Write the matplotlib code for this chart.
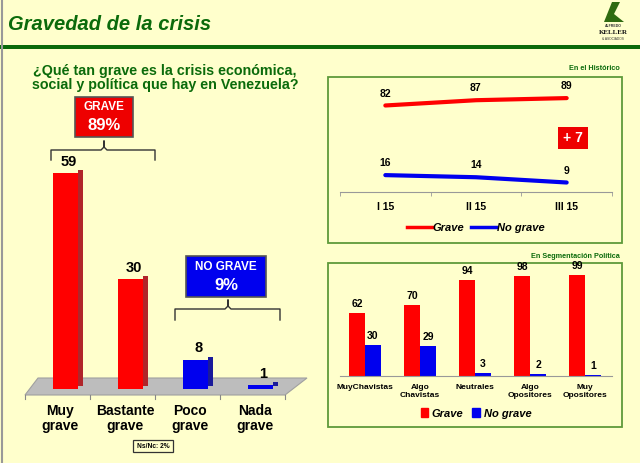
import matplotlib
matplotlib.use("Agg")
import matplotlib.pyplot as plt
from matplotlib.patches import Rectangle, Polygon
from matplotlib.lines import Line2D
import numpy as np

plt.rcParams['font.family'] = ['Liberation Sans', 'DejaVu Sans']

# ---------------- data ----------------
main_cats = ["Muy\ngrave", "Bastante\ngrave", "Poco\ngrave", "Nada\ngrave"]
main_vals = [59, 30, 8, 1]
main_colors = ["#FF0000", "#FF0000", "#0000EE", "#0000EE"]
main_side = ["#B0252A", "#B0252A", "#1A1A9A", "#1A1A9A"]

hist_periods = ["I 15", "II 15", "III 15"]
hist_grave = [82, 87, 89]
hist_nograve = [16, 14, 9]

seg_cats = ["MuyChavistas", "Algo\nChavistas", "Neutrales", "Algo\nOpositores", "Muy\nOpositores"]
seg_grave = [62, 70, 94, 98, 99]
seg_nograve = [30, 29, 3, 2, 1]

BG = "#FFFFCC"
GREEN = "#0B6B0B"
BORDER = "#5E9A3A"
RED = "#FF0000"
BLUE = "#0000EE"

W, H = 640, 463
fig = plt.figure(figsize=(6.4, 4.63), dpi=100, facecolor=BG)

def px_axes(x0, y0, x1, y1, **kw):
    return fig.add_axes([x0 / W, 1 - y1 / H, (x1 - x0) / W, (y1 - y0) / H], **kw)

bg = px_axes(0, 0, W, H)
bg.set_xlim(0, W); bg.set_ylim(H, 0); bg.axis("off"); bg.set_zorder(0)

bg.plot([1.5, 1.5], [0, H], color="#999999", lw=1.5)
bg.text(8, 24, "Gravedad de la crisis", color=GREEN, fontsize=14.5, fontweight="bold",
        fontstyle="italic", va="center", ha="left")
bg.add_patch(Rectangle((0, 44.5), W, 4.5, color="#0A6A0A", lw=0))
# logo
bg.add_patch(Polygon([[604, 22], [612, 2], [620, 2], [614, 14], [624, 22]], closed=True,
                     color="#2F6B10", lw=0))
bg.text(613, 26, "ALFREDO", fontsize=2.5, fontweight="bold", ha="center", va="center", color="#333333")
bg.text(613, 33, "KELLER", fontsize=5, fontweight="bold", ha="center", va="center", color="#111111",
        family="Liberation Serif")
bg.text(613, 39.5, "& ASOCIADOS", fontsize=2.3, ha="center", va="center", color="#333333")

# question
bg.text(165, 78, "¿Qué tan grave es la crisis económica,\nsocial y política que hay en Venezuela?",
        color=GREEN, fontsize=10.3, fontweight="bold", ha="center", va="center", linespacing=1.05)

# GRAVE box + bracket
bg.add_patch(Rectangle((75, 97), 58, 40, facecolor="#EE0000", edgecolor="#555555", lw=1.2))
bg.text(104, 107, "GRAVE", color="white", fontsize=8.5, fontweight="bold", ha="center", va="center")
bg.text(104, 125, "89%", color="white", fontsize=12, fontweight="bold", ha="center", va="center")

def bracket(xa, xb, ytop, ybot, xm):
    bg.plot([xa, xa, xm - 3, xm, xm, xm, xm + 3, xb, xb],
            [ybot, ytop + 3, ytop + 3, ytop, ytop - 6, ytop, ytop + 3, ytop + 3, ybot],
            color="#333333", lw=1.0)

bracket(51, 155, 147, 160, 104)

# NO GRAVE box + bracket
bg.add_patch(Rectangle((186, 256), 80, 41, facecolor="#0000EE", edgecolor="#555555", lw=1.2))
bg.text(226, 267, "NO GRAVE", color="white", fontsize=8.5, fontweight="bold", ha="center", va="center")
bg.text(226, 286, "9%", color="white", fontsize=12, fontweight="bold", ha="center", va="center")
bracket(175, 280, 306, 320, 228)

# floor
bg.add_patch(Polygon([[38, 378], [307, 378], [285, 395], [25, 395]], closed=True,
                     facecolor="#BDBDBD", edgecolor="#A0A0A0", lw=0.8))
for xt in [25, 90, 155, 220, 285]:
    bg.plot([xt, xt], [395, 399], color="#888888", lw=0.8)

# Ns/Nc box
bg.add_patch(Rectangle((133, 440), 40, 12, facecolor="none", edgecolor="#333333", lw=0.9))
bg.text(153, 446, "Ns/Nc: 2%", fontsize=4.8, fontweight="bold", ha="center", va="center")

# ---------------- left 3D-like bar chart ----------------
axL = px_axes(25, 140, 285, 389)
axL.set_zorder(1); axL.patch.set_alpha(0)
axL.set_xlim(-0.62, 3.38)
ymaxL = 249 / 3.66
axL.set_ylim(0, ymaxL)
for s in axL.spines.values():
    s.set_visible(False)
axL.set_yticks([])
xL = np.arange(len(main_vals))
fw = 25 / 65.0
sw = 5 / 65.0
lift = 3 / 3.66
axL.bar(xL + fw / 2 + sw / 2, main_vals, width=sw, bottom=lift, color=main_side, lw=0)
axL.bar(xL, main_vals, width=fw, color=main_colors, lw=0)
for i, v in enumerate(main_vals):
    axL.annotate(str(v), (xL[i] + 0.05, v + lift), xytext=(0, 1), textcoords="offset points",
                 ha="center", va="bottom", fontsize=10.5, fontweight="bold")
axL.set_xticks(xL - 0.08)
axL.set_xticklabels(main_cats, fontsize=10, fontweight="bold", linespacing=1.05)
axL.tick_params(axis="x", length=0, pad=11)

# ---------------- right top panel: history ----------------
bg.add_patch(Rectangle((328, 77), 294, 166, facecolor="none", edgecolor=BORDER, lw=1.3))
bg.text(620, 69, "En el Histórico", fontsize=5.2, fontweight="bold", color=GREEN, ha="right", va="center")

axT = px_axes(340, 77, 612, 192)
axT.set_zorder(1); axT.patch.set_alpha(0)
xT = np.arange(len(hist_periods))
axT.set_xlim(-0.5, 2.5)
axT.set_ylim(0, 109)
axT.plot(xT, hist_grave, color=RED, lw=3, solid_capstyle="round")
axT.plot(xT, hist_nograve, color=BLUE, lw=3, solid_capstyle="round")
for i in range(len(xT)):
    axT.annotate(str(hist_grave[i]), (xT[i], hist_grave[i]), xytext=(0, 5), textcoords="offset points",
                 ha="center", va="bottom", fontsize=7.5, fontweight="bold")
    axT.annotate(str(hist_nograve[i]), (xT[i], hist_nograve[i]), xytext=(0, 5), textcoords="offset points",
                 ha="center", va="bottom", fontsize=7.5, fontweight="bold")
for k in ["top", "right", "left"]:
    axT.spines[k].set_visible(False)
axT.spines["bottom"].set_color("#999999")
axT.set_yticks([])
axT.set_xticks(xT)
axT.set_xticklabels(hist_periods, fontsize=7.5, fontweight="bold")
axT.set_xticks([-0.5, 0.5, 1.5, 2.5], minor=True)
axT.tick_params(axis="x", which="major", length=0, pad=7)
axT.tick_params(axis="x", which="minor", length=3, color="#999999", direction="out")
handles = [Line2D([], [], color=RED, lw=2.5), Line2D([], [], color=BLUE, lw=2.5)]
axT.legend(handles, ["Grave", "No grave"], loc="center", bbox_to_anchor=(0.5, -0.31),
           ncol=2, frameon=False, handlelength=2.2, handletextpad=0.1, columnspacing=0.6,
           prop=dict(size=8, weight="bold", style="italic"))
bg.add_patch(Rectangle((558, 127), 30, 22, facecolor="#EE0000", edgecolor="none"))
bg.text(573, 138, "+ 7", color="white", fontsize=10, fontweight="bold", ha="center", va="center")

# ---------------- right bottom panel: segmentation ----------------
bg.add_patch(Rectangle((328, 263), 294, 164, facecolor="none", edgecolor=BORDER, lw=1.3))
bg.text(620, 257, "En Segmentación Política", fontsize=5.2, fontweight="bold", color=GREEN,
        ha="right", va="center")

axB = px_axes(340, 266, 612, 376)
axB.set_zorder(1); axB.patch.set_alpha(0)
xB = np.arange(len(seg_cats))
off = 25 / 55.0
axB.set_xlim(-off, -off + 272 / 55.0)
axB.set_ylim(0, 108)
bw = 16 / 55.0
axB.bar(xB - bw / 2, seg_grave, width=bw, color=RED, lw=0)
axB.bar(xB + bw / 2, seg_nograve, width=bw, color=BLUE, lw=0)
for i in range(len(xB)):
    axB.annotate(str(seg_grave[i]), (xB[i] - bw / 2, seg_grave[i]), xytext=(0, 3), textcoords="offset points",
                 ha="center", va="bottom", fontsize=7.5, fontweight="bold")
    axB.annotate(str(seg_nograve[i]), (xB[i] + bw / 2, seg_nograve[i]), xytext=(0, 3), textcoords="offset points",
                 ha="center", va="bottom", fontsize=7.5, fontweight="bold")
for k in ["top", "right", "left"]:
    axB.spines[k].set_visible(False)
axB.spines["bottom"].set_color("#999999")
axB.set_yticks([])
axB.set_xticks(xB)
axB.set_xticklabels(seg_cats, fontsize=6, fontweight="bold", linespacing=1.1, va="top")
axB.tick_params(axis="x", length=0, pad=6)
sq = [Rectangle((0, 0), 1, 1, color=RED), Rectangle((0, 0), 1, 1, color=BLUE)]
axB.legend(sq, ["Grave", "No grave"], loc="center", bbox_to_anchor=(0.5, -0.34), ncol=2,
           frameon=False, handlelength=0.7, handleheight=0.9, handletextpad=0.3, columnspacing=0.8,
           prop=dict(size=8, weight="bold", style="italic"))

fig.savefig("out.png", dpi=100, facecolor=BG)
